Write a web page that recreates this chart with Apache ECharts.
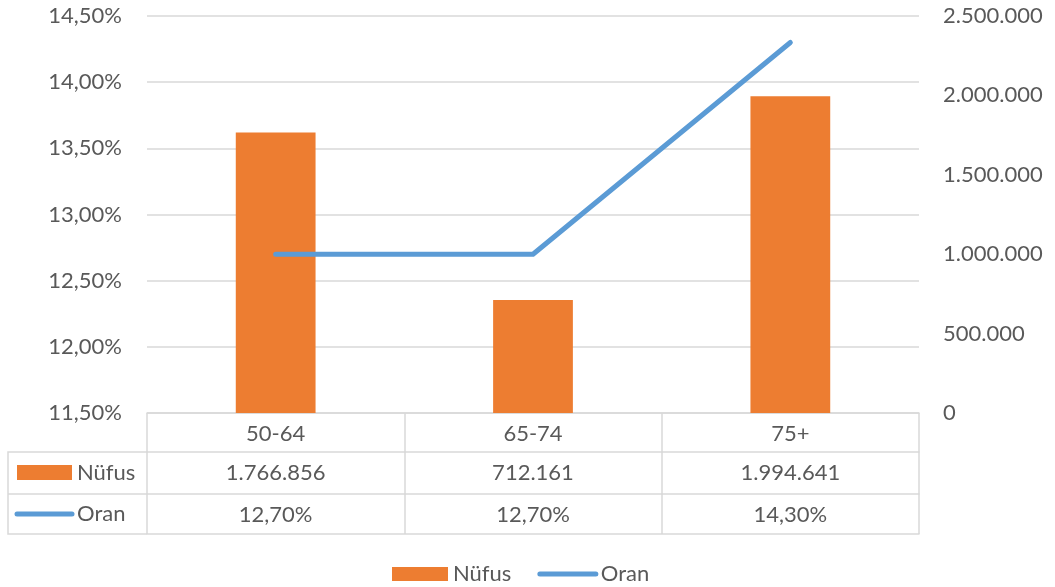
<!DOCTYPE html>
<html>
<head>
<meta charset="utf-8">
<script src="https://cdn.jsdelivr.net/npm/echarts@6/dist/echarts.min.js"></script>
<style>
  html, body { margin: 0; padding: 0; background: #fff; }
  #chart { width: 1055px; height: 587px; }
</style>
</head>
<body>
<div id="chart"></div>
<script>
'use strict';

// ---- data ----
const categories = ['50-64', '65-74', '75+'];
const nufus = [1766856, 712161, 1994641];
const oran = [12.7, 12.7, 14.3];

// ---- palette / formatters ----
const C = { bar: '#ed7d31', line: '#5b9bd5', text: '#595959', grid: '#d9d9d9' };
const FONT = 'Lato';
const FS = 22;
const intTR = n => String(Math.round(n)).replace(/\B(?=(\d{3})+(?!\d))/g, '.');
const pctTR = v => v.toFixed(2).replace('.', ',') + '%';

const txt = { color: C.text, fontFamily: FONT, fontSize: FS };

// data-table rows drawn as extra category axes under the plot
const tableAxis = (offset, tickLen, margin, fmt) => ({
  type: 'category', data: categories, position: 'bottom', offset,
  axisLine: { show: true, lineStyle: { color: C.grid, width: 1.5 } },
  axisTick: { show: tickLen > 0, length: tickLen, lineStyle: { color: C.grid, width: 1.5 } },
  axisLabel: { show: !!fmt, ...txt, margin, formatter: fmt ? ((v, i) => fmt(i)) : undefined },
  splitLine: { show: false },
});

const chart = echarts.init(document.getElementById('chart'));
chart.setOption({
  animation: false,
  grid: { left: 147, right: 136, top: 16, bottom: 174 },
  legend: {
    top: 558, left: 387, itemWidth: 56, itemHeight: 14, itemGap: 26,
    textStyle: { ...txt },
    data: [
      { name: 'Nüfus', icon: 'rect' },
      { name: 'Oran', itemStyle: { opacity: 0 }, lineStyle: { width: 5, cap: 'round', color: C.line } },
    ],
  },
  xAxis: [
    tableAxis(0, 39, 10, i => categories[i]),
    tableAxis(39, 42, 10, i => intTR(nufus[i])),
    tableAxis(81, 40, 10, i => pctTR(oran[i])),
    tableAxis(121, 0, 0, null),
  ],
  yAxis: [
    { type: 'value', min: 11.5, max: 14.5, interval: 0.5, position: 'left',
      axisLine: { show: false }, axisTick: { show: false },
      axisLabel: { ...txt, margin: 25, formatter: v => pctTR(v) },
      splitLine: { lineStyle: { color: C.grid, width: 1.5 } } },
    { type: 'value', min: 0, max: 2500000, interval: 500000, position: 'right',
      axisLine: { show: false }, axisTick: { show: false },
      axisLabel: { ...txt, margin: 24, formatter: v => intTR(v) },
      splitLine: { show: false } },
  ],
  series: [
    { name: 'Nüfus', type: 'bar', yAxisIndex: 1, xAxisIndex: 0, data: nufus, barWidth: '31%',
      itemStyle: { color: C.bar } },
    { name: 'Oran', type: 'line', yAxisIndex: 0, xAxisIndex: 0, data: oran, symbol: 'none', z: 5,
      lineStyle: { color: C.line, width: 5, cap: 'round', join: 'round' }, itemStyle: { color: C.line } },
  ],
  // left header cells of the data table
  graphic: [
    { type: 'polyline', shape: { points: [[147, 452], [8, 452], [8, 534], [147, 534]] },
      style: { stroke: C.grid, lineWidth: 1.5, fill: null } },
    { type: 'line', shape: { x1: 8, y1: 494, x2: 147, y2: 494 }, style: { stroke: C.grid, lineWidth: 1.5 } },
    { type: 'rect', shape: { x: 17, y: 465, width: 55, height: 15 }, style: { fill: C.bar } },
    { type: 'text', x: 77, y: 473, style: { text: 'Nüfus', fill: C.text, font: FS + 'px ' + FONT, verticalAlign: 'middle' } },
    { type: 'line', shape: { x1: 17, y1: 514, x2: 72, y2: 514 }, style: { stroke: C.line, lineWidth: 5, lineCap: 'round' } },
    { type: 'text', x: 77, y: 514, style: { text: 'Oran', fill: C.text, font: FS + 'px ' + FONT, verticalAlign: 'middle' } },
  ],
});
</script>
</body>
</html>
